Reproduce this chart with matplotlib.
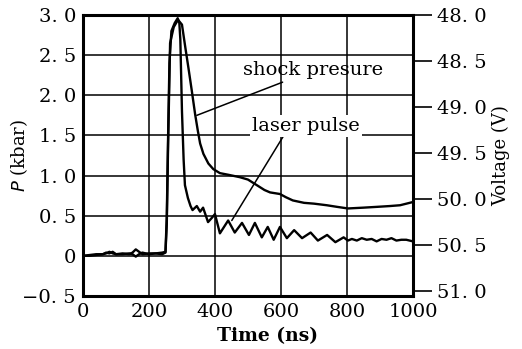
import numpy as np
import matplotlib
matplotlib.use("Agg")
from matplotlib import pyplot as plt

plt.rcParams['font.family'] = ['DejaVu Serif']

# baseline before the pulse (both traces)
t_pre = [0, 20, 40, 60, 70, 80, 90, 100, 120, 140, 150, 160, 170, 180, 200, 220, 240, 250]
p_pre_laser = [0.0, 0.01, 0.02, 0.02, 0.04, 0.03, 0.05, 0.02, 0.03, 0.02, 0.04, 0.08, 0.05, 0.02, 0.03, 0.03, 0.04, 0.05]
p_pre_shock = [0.0, 0.0, 0.01, 0.02, 0.03, 0.05, 0.03, 0.02, 0.02, 0.03, 0.02, -0.01, 0.02, 0.04, 0.02, 0.03, 0.02, 0.04]

# laser pulse
t_laser = [254, 258, 262, 268, 278, 287, 292, 295, 300, 305, 309, 318, 326, 332, 345, 355, 364, 379, 390,
           400, 415, 440, 460, 482, 503, 521, 542, 560, 578, 597, 618, 640, 664, 690, 712, 740, 765, 790,
           803, 815, 830, 845, 860, 875, 890, 905, 920, 935, 950, 965, 980, 1000]
p_laser = [0.5, 1.5, 2.4, 2.8, 2.9, 2.96, 2.9, 2.7, 1.8, 1.2, 0.88, 0.72, 0.62, 0.57, 0.62, 0.55, 0.6, 0.42, 0.47,
           0.52, 0.28, 0.44, 0.29, 0.41, 0.26, 0.41, 0.23, 0.36, 0.2, 0.36, 0.22, 0.32, 0.22, 0.29, 0.19, 0.26, 0.17, 0.23,
           0.19, 0.21, 0.19, 0.22, 0.2, 0.21, 0.18, 0.21, 0.2, 0.22, 0.19, 0.2, 0.2, 0.18]

# shock pressure
t_shock = [254, 258, 264, 275, 288, 300, 310, 320, 330, 340, 348, 355, 365, 380, 395, 415, 440, 475, 500,
           527, 550, 567, 597, 615, 636, 670, 700, 739, 770, 803, 850, 891, 930, 961, 1000]
p_shock = [0.4, 1.4, 2.65, 2.85, 2.94, 2.88, 2.6, 2.33, 2.05, 1.76, 1.56, 1.4, 1.27, 1.15, 1.08, 1.03, 1.01, 0.98, 0.95,
           0.88, 0.82, 0.79, 0.77, 0.73, 0.69, 0.66, 0.65, 0.63, 0.61, 0.59, 0.6, 0.61, 0.62, 0.63, 0.67]

t_ticks = [0, 200, 400, 600, 800, 1000]
p_ticks = [-0.5, 0, 0.5, 1.0, 1.5, 2.0, 2.5, 3.0]
p_labels = ['\u22120. 5', '0', '0. 5', '1. 0', '1. 5', '2. 0', '2. 5', '3. 0']
v_ticks = [48.0, 48.5, 49.0, 49.5, 50.0, 50.5, 51.0]
v_labels = ['48. 0', '48. 5', '49. 0', '49. 5', '50. 0', '50. 5', '51. 0']

fig = plt.figure(figsize=(5.22, 3.49), dpi=100)
ax = fig.add_axes([0.159, 0.152, 0.632, 0.805])

ax.plot(t_pre + t_shock, p_pre_shock + p_shock, color='black', lw=1.7, zorder=3)
ax.plot(t_pre + t_laser, p_pre_laser + p_laser, color='black', lw=1.7, zorder=3)

ax.set_xlim(0, 1000)
ax.set_ylim(-0.5, 3.0)
ax.set_xticks(t_ticks)
ax.set_yticks(p_ticks)
ax.set_yticklabels(p_labels)
ax.tick_params(length=0, labelsize=14, pad=5)
ax.grid(True, color='black', lw=1.1)
for s in ax.spines.values():
    s.set_linewidth(2.2)

ax.set_xlabel('Time (ns)', fontsize=13.5, fontweight='bold')
ax.xaxis.set_label_coords(0.56, -0.11)
ax.set_ylabel('$P$ (kbar)', fontsize=13)
ax.yaxis.set_label_coords(-0.16, 0.5)

ax2 = ax.twinx()
ax2.set_ylim(51.05, 48.0)
ax2.set_yticks(v_ticks)
ax2.set_yticklabels(v_labels)
ax2.tick_params(axis='y', direction='out', length=14, width=1.2, labelsize=14, pad=3)
for s in ax2.spines.values():
    s.set_visible(False)
ax2.set_ylabel('Voltage (V)', fontsize=13, rotation=90, labelpad=4)

ax.annotate('shock presure', xy=(345, 1.75), xytext=(485, 2.31), fontsize=14,
            va='center', ha='left',
            arrowprops=dict(arrowstyle='-', color='black', lw=1.1, shrinkA=0, shrinkB=0))
ax.annotate('laser pulse', xy=(451, 0.44), xytext=(512, 1.62), fontsize=14,
            va='center', ha='left',
            bbox=dict(boxstyle='square,pad=0.1', fc='white', ec='none'),
            arrowprops=dict(arrowstyle='-', color='black', lw=1.1, shrinkA=0, shrinkB=0,
                            relpos=(0.3, 0.0)))

fig.savefig('out.png', dpi=100)
